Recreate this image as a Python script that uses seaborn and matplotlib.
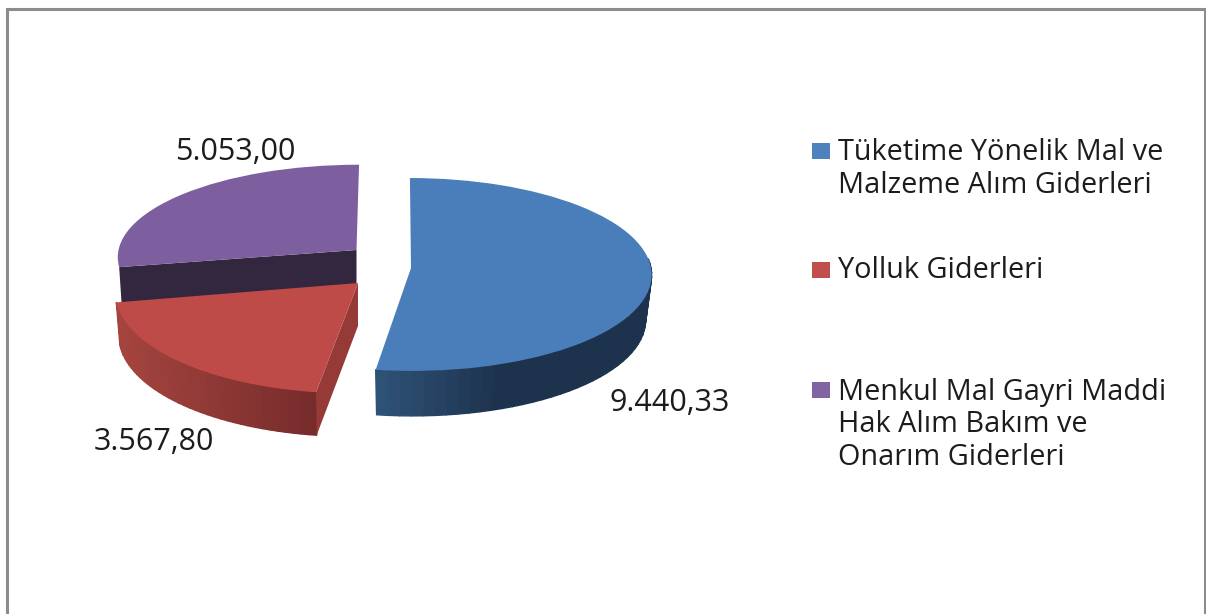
import numpy as np
import matplotlib
matplotlib.use("Agg")
import matplotlib.pyplot as plt
import seaborn as sns
from matplotlib.collections import PolyCollection
from matplotlib.colors import to_rgb
from matplotlib.patches import Rectangle
from matplotlib.transforms import Transform

categories = ["Tüketime Yönelik Mal ve\nMalzeme Alım Giderleri",
              "Yolluk Giderleri",
              "Menkul Mal Gayri Maddi\nHak Alım Bakım ve\nOnarım Giderleri"]
values = [9440.33, 3567.80, 5053.00]
value_labels = ["9.440,33", "3.567,80", "5.053,00"]
top_colors = ["#4a7ebb", "#be4b48", "#7d5fa0"]
key_colors = ["#4f81bd", "#c0504d", "#8064a2"]

sns.set_theme(style="white")
plt.rcParams["font.family"] = ["Open Sans", "DejaVu Sans"]
TXT = "#1c1c1c"
FS_LEGEND = 20.8
FS_VALUE = 22

P = 0.067


def project(x, y, cx, cy, rx, ry, shear=0.0):
    w = 1.0 / (1.0 + P * y)
    up = ry * y * w
    return cx + rx * x * w + shear * up, cy - up


class Tilt(Transform):
    input_dims = output_dims = 2

    def __init__(self, *geo):
        super().__init__()
        self.geo = geo

    def transform_non_affine(self, v):
        v = np.asarray(v)
        return np.column_stack(project(v[:, 0], v[:, 1], *self.geo))


# centre x, centre y, radius x, radius y, shear
geom = [(411, 268, 240, 96, -0.012),
        (358, 283, 242, 103, 0.046),
        (356.5, 250, 238, 91, 0.03)]
depth = [45, 43, 36]
rim = [0.975, 0.985, 0.99]

fig = plt.figure(figsize=(12.06, 6.14), dpi=100)
ax = fig.add_axes([0, 0, 1, 1])

wedges, _ = ax.pie(values, colors=sns.color_palette(top_colors), startangle=90,
                   counterclock=False, radius=1, frame=False,
                   wedgeprops={"linewidth": 0})
ax.set_aspect("auto")
ax.set_xlim(0, 1206)
ax.set_ylim(614, 0)
ax.axis("off")

edges = np.concatenate([[0], np.cumsum(values)]) / np.sum(values) * 2 * np.pi


def wall_quad(i, t):
    """Outer points (top, bottom) at clockwise angle t for wedge i."""
    cx, cy, rx, ry, sh = geom[i]
    tx, ty = project(np.sin(t), np.cos(t), cx, cy, rx, ry, sh)
    bx, by = project(np.sin(t), np.cos(t), cx, cy, rx * rim[i], ry, sh)
    return tx, ty, bx, by + depth[i]


def rim_wall(i, t0, t1, col_fn, z):
    ts = np.linspace(t0, t1, 40)
    tx, ty, bx, by = wall_quad(i, ts)
    polys, cols = [], []
    for k in range(len(ts) - 1):
        polys.append([(tx[k], ty[k]), (tx[k + 1], ty[k + 1]),
                      (bx[k + 1], by[k + 1]), (bx[k], by[k])])
        cols.append(col_fn((tx[k] + tx[k + 1]) / 2))
    ax.add_collection(PolyCollection(polys, facecolors=cols, edgecolors=cols,
                                     linewidths=1.0, zorder=z))


def radial_face(i, t, color, z):
    cx, cy = geom[i][:2]
    tx, ty, bx, by = wall_quad(i, t)
    ax.fill([cx, tx, bx, cx], [cy, ty, by, cy + depth[i]], color=color, lw=0, zorder=z)


def ramp(c0, c1, x0, x1):
    a, b = np.array(to_rgb(c0)), np.array(to_rgb(c1))
    return lambda x: tuple(a + (b - a) * np.clip((x - x0) / (x1 - x0), 0, 1))


# purple: radial face, then top
radial_face(2, edges[2], "#33263f", 1)
wedges[2].set_transform(Tilt(*geom[2]) + ax.transData)
wedges[2].set_zorder(2)
# red: rim, right face, then top
rim_wall(1, edges[1], edges[2], ramp("#752c2b", "#a5443f", 316, 118), 3)
radial_face(1, edges[1], "#963a38", 3)
wedges[1].set_transform(Tilt(*geom[1]) + ax.transData)
wedges[1].set_zorder(4)
# blue: rim, then top
rim_wall(0, np.pi * 0.47, edges[1], ramp("#2f5278", "#1d324c", 377, 500), 5)
wedges[0].set_transform(Tilt(*geom[0]) + ax.transData)
wedges[0].set_zorder(6)

# value labels
for label, x, y in zip(value_labels, [670, 153.5, 235], [411, 450, 160]):
    ax.text(x, y, label, ha="center", va="baseline", fontsize=FS_VALUE, color=TXT, zorder=8)

# legend column
for col, label, ky, by in zip(key_colors, categories, [143, 262, 382], [193, 278, 465]):
    ax.add_patch(Rectangle((812, ky), 18, 16, facecolor=col, edgecolor="none", zorder=8))
    ax.text(838, by, label, ha="left", va="baseline", fontsize=FS_LEGEND, color=TXT,
            linespacing=1.17, zorder=8)

# outer frame (open at the bottom)
ax.plot([6.5, 6.5, 1204.5, 1204.5], [614, 8.5, 8.5, 614], color="#8c8c8c",
        lw=2.2, solid_joinstyle="miter", zorder=9)

fig.savefig("out.png", dpi=100)
